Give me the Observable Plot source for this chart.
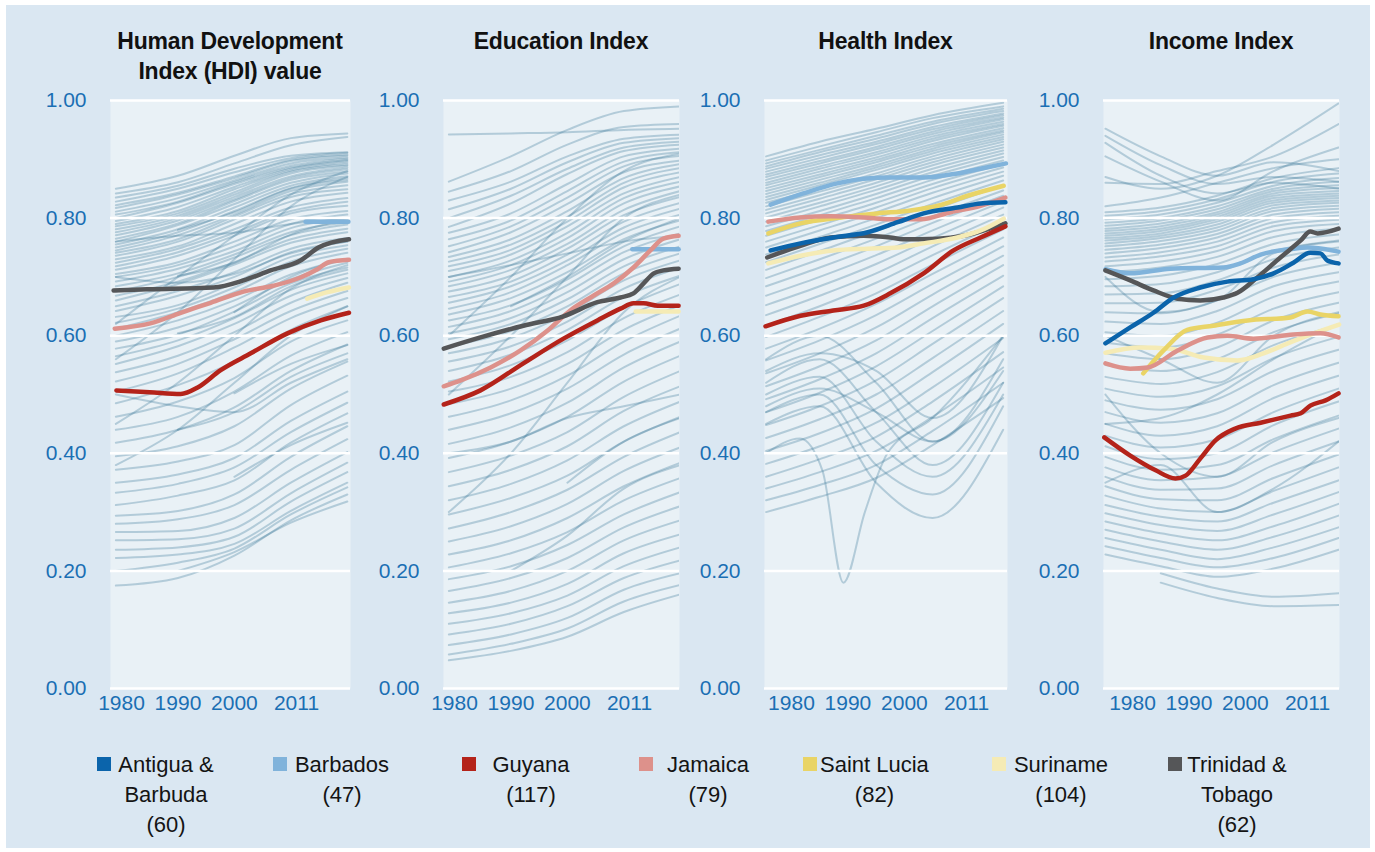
<!DOCTYPE html>
<html>
<head>
<meta charset="utf-8">
<script src="https://cdn.jsdelivr.net/npm/d3@7"></script>
<script src="https://cdn.jsdelivr.net/npm/@observablehq/plot@0.6"></script>
<style>
  html, body { margin: 0; padding: 0; background: #ffffff; }
  body { width: 1375px; height: 852px; position: relative; overflow: hidden;
         font-family: "Liberation Sans", Arial, Helvetica, sans-serif; }
  #frame { position: absolute; left: 6px; top: 5px; width: 1364px; height: 843px; background: #dae7f2; }
  .title { position: absolute; top: 26px; text-align: center; font-weight: bold; font-size: 23px;
           line-height: 30px; color: #111; letter-spacing: -0.2px; white-space: pre-line; }
  .chart { position: absolute; top: 90px; }
  .lg { position: absolute; top: 750px; display: flex; align-items: flex-start; }
  .lg .sw { width: 14px; height: 14px; margin-top: 7px; margin-right: 3px; flex: none; }
  .lg .tx { min-width: 104px; text-align: center; font-size: 22px; line-height: 30px; color: #141414; white-space: nowrap; }
</style>
</head>
<body>
<div id="frame"></div>
<div id="root"></div>
<script>
// ---------------- DATA ----------------
const panelTitles = ["Human Development\nIndex (HDI) value", "Education Index", "Health Index", "Income Index"];
const countries = ["Antigua & Barbuda", "Barbados", "Guyana", "Jamaica", "Saint Lucia", "Suriname", "Trinidad & Tobago"];
const ranks = [60, 47, 117, 79, 82, 104, 62];
const colors = ["#0b64ab", "#80b3db", "#b4231a", "#dd918b", "#e9d466", "#f5ebb5", "#555658"];
const xTickYears = [1980, 1990, 2000, 2011];
const yTickValues = [0, 0.2, 0.4, 0.6, 0.8, 1.0];

// HDI highlighted series: [year, value]
const hdiBarbados = [[2012.6, 0.794], [2020.2, 0.794]];
const hdiGuyana = [[1979.1, 0.507], [1985, 0.504], [1990.5, 0.501], [1993.5, 0.512], [1997.5, 0.541], [2002.9, 0.570], [2009.4, 0.604], [2015.3, 0.626], [2020.3, 0.639]];
const hdiJamaica = [[1978.8, 0.612], [1985.1, 0.621], [1990.5, 0.639], [1995.8, 0.656], [2001.6, 0.675], [2006.9, 0.685], [2011.7, 0.699], [2014.7, 0.713], [2016.7, 0.725], [2020.3, 0.729]];
const hdiSuriname = [[2012.9, 0.663], [2016.5, 0.674], [2020.3, 0.682]];
const hdiTrinidad = [[1978.6, 0.677], [1985.1, 0.679], [1996.3, 0.682], [2001.6, 0.694], [2006.4, 0.711], [2011.7, 0.728], [2014.9, 0.750], [2020.3, 0.764]];

// Education highlighted series
const eduBarbados = [[2011.5, 0.747], [2019.7, 0.747]];
const eduGuyana = [[1978.1, 0.483], [1984.6, 0.507], [1992.2, 0.553], [1999.3, 0.595], [2005.3, 0.626], [2009.4, 0.646], [2011.7, 0.655], [2013.5, 0.655], [2016.0, 0.651], [2019.7, 0.651]];
const eduJamaica = [[1978.1, 0.514], [1981.1, 0.524], [1986.4, 0.546], [1991.7, 0.575], [1996.5, 0.609], [2000.5, 0.643], [2004.6, 0.668], [2008.2, 0.689], [2011.7, 0.716], [2014.7, 0.745], [2017.0, 0.765], [2019.7, 0.770]];
const eduSuriname = [[2012.1, 0.641], [2019.7, 0.641]];
const eduTrinidad = [[1978.1, 0.578], [1984.6, 0.597], [1992.2, 0.617], [1999.3, 0.633], [2005.3, 0.657], [2009.4, 0.665], [2011.7, 0.672], [2013.5, 0.689], [2015.3, 0.706], [2017.0, 0.711], [2019.7, 0.714]];

// Health highlighted series
const healthAntigua = [[1976.3, 0.745], [1981.6, 0.757], [1987.4, 0.767], [1993.5, 0.776], [1998.8, 0.793], [2003.4, 0.808], [2009.4, 0.818], [2013.5, 0.825], [2017.9, 0.827]];
const healthBarbados = [[1976.3, 0.823], [1982.1, 0.842], [1988.1, 0.859], [1992.8, 0.867], [1997.5, 0.869], [2003.4, 0.869], [2009.4, 0.876], [2013.5, 0.884], [2018.0, 0.893]];
const healthGuyana = [[1975.4, 0.616], [1981.6, 0.634], [1987.4, 0.643], [1992.8, 0.651], [1997.5, 0.672], [2003.4, 0.706], [2008.7, 0.745], [2013.5, 0.767], [2017.9, 0.786]];
const healthJamaica = [[1975.9, 0.794], [1981.6, 0.801], [1986.9, 0.803], [1992.8, 0.801], [1997.5, 0.798], [2002.9, 0.798], [2008.2, 0.810], [2013.5, 0.821], [2017.9, 0.835]];
const healthSaintLucia = [[1975.9, 0.774], [1981.6, 0.791], [1988.7, 0.801], [1995.2, 0.808], [2001.1, 0.813], [2005.9, 0.821], [2011.2, 0.838], [2017.6, 0.855]];
const healthSuriname = [[1975.9, 0.723], [1981.6, 0.736], [1987.4, 0.745], [1993.5, 0.748], [1998.8, 0.750], [2003.4, 0.757], [2009.4, 0.767], [2013.5, 0.779], [2017.6, 0.799]];
const healthTrinidad = [[1975.7, 0.733], [1981.6, 0.753], [1986.9, 0.767], [1992.8, 0.770], [1997.5, 0.767], [1999.8, 0.764], [2005.9, 0.765], [2010.5, 0.770], [2017.9, 0.791]];

// Income highlighted series
const incomeAntigua = [[1975.2, 0.587], [1979.6, 0.614], [1983.7, 0.639], [1987.3, 0.665], [1992.0, 0.682], [1996.8, 0.692], [2001.4, 0.696], [2005.0, 0.706], [2008.5, 0.724], [2011.5, 0.741], [2013.3, 0.740], [2014.5, 0.728], [2016.5, 0.723]];
const incomeBarbados = [[1975.2, 0.713], [1979.6, 0.706], [1986.7, 0.714], [1996.1, 0.716], [1999.1, 0.723], [2002.7, 0.738], [2008.5, 0.748], [2011.0, 0.750], [2016.5, 0.743]];
const incomeGuyana = [[1975.0, 0.427], [1979.6, 0.396], [1984.1, 0.371], [1987.6, 0.357], [1989.4, 0.362], [1992.0, 0.391], [1994.7, 0.422], [1998.2, 0.442], [2002.7, 0.452], [2008.0, 0.464], [2009.8, 0.468], [2011.5, 0.481], [2014.2, 0.490], [2016.5, 0.502]];
const incomeJamaica = [[1975.2, 0.553], [1979.6, 0.544], [1982.7, 0.546], [1988.0, 0.575], [1993.3, 0.597], [1996.8, 0.600], [2001.4, 0.595], [2008.5, 0.602], [2013.3, 0.604], [2016.5, 0.597]];
const incomeSaintLucia = [[1981.9, 0.536], [1985.5, 0.575], [1989.7, 0.610], [1994.3, 0.617], [2000.4, 0.626], [2008.0, 0.631], [2011.0, 0.641], [2013.3, 0.636], [2016.5, 0.633]];
const incomeSuriname = [[1975.2, 0.571], [1981.4, 0.580], [1986.7, 0.578], [1992.6, 0.563], [1998.6, 0.558], [2003.2, 0.570], [2007.5, 0.587], [2012.1, 0.604], [2016.6, 0.619]];
const incomeTrinidad = [[1975.2, 0.711], [1979.6, 0.694], [1983.7, 0.677], [1988.0, 0.663], [1992.0, 0.660], [1996.1, 0.665], [1998.6, 0.673], [2002.1, 0.699], [2006.2, 0.733], [2009.8, 0.762], [2011.5, 0.777], [2012.8, 0.774], [2016.5, 0.782]];

// Background (all other countries), values at the listed years
const hdiBgYears = [1979, 1990, 2000, 2010, 2020];
const hdiBackground = [
  [0.850,0.872,0.906,0.936,0.944],[0.842,0.861,0.893,0.924,0.938],[0.835,0.855,0.884,0.906,0.912],[0.828,0.850,0.878,0.902,0.911],
  [0.822,0.843,0.871,0.899,0.908],[0.817,0.840,0.868,0.897,0.906],[0.811,0.834,0.864,0.893,0.903],[0.806,0.828,0.861,0.889,0.901],
  [0.800,0.826,0.858,0.886,0.899],[0.795,0.819,0.853,0.884,0.897],[0.790,0.812,0.849,0.881,0.894],[0.786,0.808,0.844,0.879,0.891],
  [0.781,0.804,0.840,0.876,0.889],[0.776,0.800,0.836,0.871,0.886],[0.771,0.796,0.832,0.868,0.883],[0.765,0.791,0.829,0.865,0.879],
  [0.760,0.788,0.824,0.860,0.876],[0.755,0.781,0.818,0.855,0.871],[0.750,0.776,0.812,0.851,0.868],[0.745,0.771,0.806,0.846,0.862],
  [0.741,0.764,0.803,0.841,0.856],[0.736,0.760,0.798,0.836,0.849],[0.730,0.752,0.790,0.828,0.843],[0.724,0.748,0.781,0.818,0.834],
  [0.718,0.742,0.775,0.812,0.828],[0.712,0.736,0.770,0.808,0.821],[0.705,0.725,0.760,0.798,0.812],[0.700,0.720,0.752,0.790,0.806],
  [0.692,0.714,0.744,0.783,0.800],[0.684,0.706,0.738,0.776,0.793],[0.675,0.700,0.733,0.771,0.789],[0.668,0.692,0.725,0.764,0.782],
  [0.660,0.688,0.721,0.758,0.776],[0.650,0.676,0.708,0.748,0.766],[0.642,0.668,0.700,0.742,0.760],[0.632,0.652,0.690,0.734,0.754],
  [0.622,0.646,0.682,0.726,0.748],[0.612,0.640,0.674,0.718,0.741],[0.600,0.626,0.660,0.704,0.731],[0.590,0.614,0.650,0.696,0.724],
  [0.578,0.602,0.641,0.689,0.716],[0.565,0.592,0.630,0.678,0.706],[0.552,0.582,0.620,0.668,0.698],[0.538,0.566,0.606,0.656,0.690],
  [0.522,0.552,0.594,0.642,0.676],[0.505,0.536,0.580,0.630,0.664],[0.485,0.516,0.556,0.610,0.650],[0.462,0.488,0.528,0.590,0.626],
  [0.440,0.462,0.505,0.566,0.606],[0.418,0.440,0.478,0.540,0.585],[0.395,0.412,0.446,0.510,0.556],[0.372,0.386,0.414,0.482,0.532],
  [0.350,0.364,0.392,0.455,0.505],[0.333,0.348,0.376,0.436,0.486],[0.312,0.328,0.354,0.418,0.468],[0.294,0.302,0.330,0.394,0.446],
  [0.280,0.288,0.312,0.372,0.424],[0.266,0.268,0.290,0.350,0.402],[0.252,0.254,0.272,0.332,0.384],[0.236,0.240,0.258,0.318,0.368],
  [0.222,0.228,0.246,0.302,0.350],[0.200,0.214,0.238,0.296,0.342],[0.175,0.188,0.226,0.286,0.330],
  [null,0.604,0.632,0.684,0.712],[null,0.702,0.724,0.772,0.798],[null,0.780,0.810,0.850,0.865],[null,null,0.502,0.552,0.584],
  [null,0.200,0.232,0.282,0.318],[null,null,0.360,0.414,0.452],[null,0.440,0.470,0.530,0.570],[null,null,0.640,0.700,0.730],
  [0.560,0.640,0.730,0.820,0.870],[0.620,0.700,0.770,0.840,0.880],[0.760,0.770,0.775,0.790,0.800],[0.700,0.690,0.705,0.740,0.760],
  [0.450,0.520,0.600,0.680,0.720],[0.500,0.480,0.470,0.520,0.560],[0.380,0.440,0.520,0.600,0.650]
];

const eduBgYears = [1979, 1990, 2000, 2010, 2020];
const eduBackground = [
  [0.942,0.944,0.946,0.950,0.952],[0.862,0.905,0.950,0.982,0.990],[0.845,0.880,0.925,0.955,0.960],[0.830,0.862,0.905,0.935,0.942],
  [0.815,0.850,0.895,0.928,0.936],[0.800,0.838,0.884,0.920,0.930],[0.785,0.825,0.875,0.914,0.925],[0.775,0.808,0.858,0.905,0.918],
  [0.764,0.796,0.846,0.896,0.912],[0.752,0.786,0.835,0.888,0.906],[0.742,0.776,0.824,0.878,0.898],[0.734,0.764,0.812,0.868,0.892],
  [0.726,0.755,0.802,0.860,0.885],[0.718,0.746,0.794,0.852,0.878],[0.710,0.738,0.786,0.842,0.870],[0.700,0.728,0.775,0.834,0.862],
  [0.692,0.720,0.766,0.825,0.854],[0.684,0.712,0.756,0.814,0.846],[0.675,0.702,0.748,0.805,0.836],[0.666,0.692,0.738,0.794,0.826],
  [0.656,0.684,0.728,0.784,0.816],[0.646,0.674,0.720,0.775,0.806],[0.636,0.664,0.708,0.764,0.796],[0.626,0.652,0.696,0.752,0.786],
  [0.615,0.642,0.686,0.742,0.774],[0.604,0.630,0.674,0.730,0.764],[0.594,0.620,0.662,0.718,0.752],[0.582,0.608,0.650,0.706,0.740],
  [0.570,0.596,0.638,0.694,0.728],[0.556,0.582,0.624,0.680,0.716],[0.540,0.568,0.610,0.666,0.702],[0.522,0.550,0.592,0.648,0.688],
  [0.505,0.530,0.572,0.630,0.670],[0.484,0.510,0.552,0.610,0.652],[0.462,0.490,0.532,0.590,0.634],[0.440,0.468,0.510,0.568,0.612],
  [0.416,0.444,0.486,0.546,0.590],[0.392,0.420,0.462,0.522,0.566],[0.368,0.396,0.436,0.496,0.540],[0.344,0.372,0.412,0.472,0.514],
  [0.320,0.348,0.388,0.446,0.488],[0.296,0.324,0.362,0.420,0.462],[0.272,0.300,0.338,0.394,0.436],[0.250,0.276,0.314,0.370,0.410],
  [0.228,0.252,0.290,0.344,0.384],[0.206,0.230,0.266,0.320,0.358],[0.186,0.208,0.244,0.296,0.334],[0.166,0.188,0.222,0.274,0.310],
  [0.146,0.166,0.200,0.252,0.286],[0.128,0.146,0.178,0.230,0.262],[0.110,0.128,0.158,0.208,0.240],[0.092,0.110,0.140,0.188,0.218],
  [0.074,0.092,0.120,0.168,0.196],[0.058,0.076,0.102,0.148,0.176],[0.048,0.064,0.088,0.130,0.160],
  [0.600,0.700,0.800,0.880,0.910],[0.500,0.600,0.700,0.800,0.840],[0.300,0.400,0.520,0.640,0.700],[0.700,0.720,0.740,0.760,0.770],
  [0.400,0.420,0.460,0.480,0.500],[null,0.650,0.700,0.760,0.800],[null,null,0.350,0.420,0.460],[null,0.200,0.260,0.340,0.380]
];

const healthBgYears = [1975.5, 1985, 1995, 2005, 2017.5];
const healthBackground = [
  [0.905,0.930,0.952,0.975,0.996],[0.898,0.922,0.946,0.970,0.990],[0.893,0.916,0.940,0.964,0.986],[0.888,0.912,0.935,0.960,0.982],
  [0.884,0.907,0.930,0.955,0.978],[0.879,0.902,0.926,0.951,0.975],[0.874,0.897,0.921,0.947,0.971],[0.870,0.893,0.917,0.943,0.968],
  [0.865,0.888,0.912,0.939,0.964],[0.860,0.884,0.908,0.935,0.960],[0.856,0.879,0.903,0.931,0.957],[0.851,0.874,0.899,0.926,0.953],
  [0.846,0.870,0.895,0.922,0.949],[0.841,0.865,0.890,0.918,0.946],[0.836,0.860,0.886,0.914,0.942],[0.831,0.856,0.882,0.910,0.938],
  [0.826,0.850,0.876,0.905,0.934],[0.820,0.845,0.871,0.900,0.930],[0.814,0.839,0.866,0.895,0.925],[0.808,0.833,0.860,0.890,0.920],
  [0.801,0.826,0.854,0.884,0.915],[0.794,0.820,0.848,0.878,0.910],[0.786,0.812,0.841,0.872,0.904],[0.778,0.805,0.834,0.865,0.898],
  [0.770,0.797,0.826,0.858,0.892],[0.760,0.788,0.818,0.851,0.886],[0.750,0.779,0.810,0.843,0.879],[0.738,0.768,0.800,0.834,0.872],
  [0.725,0.756,0.789,0.824,0.864],[0.712,0.744,0.778,0.814,0.856],[0.698,0.730,0.765,0.803,0.847],[0.684,0.716,0.752,0.792,0.838],
  [0.668,0.700,0.737,0.779,0.828],[0.652,0.684,0.722,0.766,0.818],[0.635,0.668,0.706,0.752,0.806],[0.617,0.650,0.690,0.737,0.794],
  [0.598,0.632,0.672,0.721,0.781],[0.578,0.612,0.654,0.705,0.767],[0.558,0.592,0.635,0.688,0.752],[0.536,0.570,0.614,0.670,0.736],
  [0.514,0.548,0.592,0.650,0.720],[0.492,0.526,0.570,0.630,0.702],[0.470,0.503,0.548,0.608,0.684],[0.448,0.480,0.524,0.586,0.664],
  [0.426,0.458,0.500,0.562,0.642],[0.404,0.434,0.476,0.538,0.620],[0.382,0.412,0.452,0.512,0.596],[0.360,0.390,0.428,0.488,0.572],
  [0.340,0.368,0.404,0.462,0.546],[0.320,0.346,0.380,0.438,0.520],[0.300,0.326,0.358,0.414,0.494],
  [0.560,0.600,0.520,0.420,0.560],[0.520,0.560,0.470,0.380,0.520],[0.500,0.530,0.420,0.360,0.500],[0.470,0.500,0.380,0.330,0.480],
  [0.450,0.480,0.350,0.290,0.440],[0.540,0.570,0.540,0.460,0.600],[0.480,0.510,0.470,0.420,0.540]
];
// one country with a sharp collapse and recovery in the Health Index
const healthCollapse = [[1975.5, 0.400], [1981.5, 0.425], [1985.5, 0.370], [1989.2, 0.180], [1993, 0.300], [1997, 0.400], [2005, 0.460], [2017.5, 0.600]];

const incomeBgYears = [1975.2, 1985, 1995, 2005, 2016.5];
const incomeBackground = [
  [0.952,0.905,0.872,0.895,0.880],[0.940,0.890,0.858,0.870,0.862],[0.928,0.872,0.842,0.860,0.850],[0.905,0.862,0.830,0.880,0.920],
  [0.870,0.850,0.872,0.925,0.995],[0.860,0.858,0.880,0.905,0.960],[0.820,0.835,0.860,0.885,0.900],[0.810,0.818,0.838,0.868,0.885],
  [0.804,0.812,0.832,0.862,0.876],[0.798,0.806,0.826,0.855,0.868],[0.792,0.800,0.820,0.850,0.862],[0.787,0.796,0.815,0.846,0.856],
  [0.782,0.791,0.810,0.842,0.851],[0.778,0.786,0.806,0.838,0.846],[0.774,0.782,0.802,0.834,0.842],[0.770,0.778,0.798,0.830,0.838],
  [0.766,0.774,0.794,0.826,0.834],[0.762,0.770,0.789,0.822,0.830],[0.757,0.766,0.784,0.817,0.826],[0.752,0.761,0.779,0.812,0.821],
  [0.746,0.755,0.773,0.806,0.816],[0.740,0.749,0.767,0.800,0.810],[0.733,0.742,0.760,0.793,0.804],[0.726,0.735,0.752,0.786,0.797],
  [0.718,0.726,0.744,0.778,0.790],[0.708,0.716,0.734,0.768,0.782],[0.696,0.702,0.722,0.756,0.772],[0.684,0.688,0.708,0.744,0.762],
  [0.670,0.672,0.694,0.730,0.750],[0.655,0.656,0.678,0.716,0.738],[0.640,0.638,0.660,0.700,0.724],[0.624,0.620,0.642,0.684,0.708],
  [0.606,0.600,0.622,0.666,0.692],[0.588,0.580,0.602,0.646,0.674],[0.570,0.560,0.580,0.626,0.656],[0.550,0.540,0.560,0.606,0.638],
  [0.530,0.518,0.538,0.584,0.618],[0.510,0.496,0.514,0.562,0.598],[0.490,0.474,0.492,0.540,0.576],[0.470,0.452,0.468,0.516,0.554],
  [0.450,0.430,0.446,0.494,0.532],[0.430,0.410,0.424,0.470,0.510],[0.412,0.390,0.400,0.448,0.488],[0.394,0.372,0.380,0.424,0.464],
  [0.376,0.354,0.360,0.402,0.442],[0.360,0.338,0.340,0.380,0.420],[0.344,0.322,0.320,0.358,0.398],[0.328,0.306,0.300,0.336,0.376],
  [0.312,0.292,0.284,0.316,0.354],[0.298,0.278,0.268,0.296,0.334],[0.284,0.264,0.252,0.276,0.314],[0.270,0.250,0.236,0.258,0.294],
  [0.256,0.236,0.220,0.240,0.274],[0.242,0.222,0.206,0.222,0.256],[0.228,0.208,0.190,0.204,0.236],
  [null,0.196,0.170,0.156,0.162],[null,0.180,0.154,0.140,0.142],
  [0.600,0.560,0.520,0.600,0.640],[0.500,0.400,0.360,0.420,0.460],[0.700,0.640,0.660,0.740,0.760],[0.350,0.380,0.300,0.340,0.420],
  [0.450,0.460,0.500,0.560,0.620]
];

// ---------------- LAYOUT ----------------
const PX_PER_YEAR = 5.645;
const panelLayout = [
  {left: 110, width: 240, xStart: 1978.05},
  {left: 443, width: 236, xStart: 1978.05},
  {left: 764, width: 243, xStart: 1975.22},
  {left: 1103, width: 236, xStart: 1974.86}
];
const legendLefts = [97, 273, 462, 639, 803, 992, 1168];
const ML = 80, MR = 12, MT = 10, MB = 42, H = 640;

const panelSeries = [
  {bgYears: hdiBgYears, bg: hdiBackground, extra: [],
   series: {"Barbados": hdiBarbados, "Suriname": hdiSuriname, "Jamaica": hdiJamaica, "Trinidad & Tobago": hdiTrinidad, "Guyana": hdiGuyana}},
  {bgYears: eduBgYears, bg: eduBackground, extra: [],
   series: {"Barbados": eduBarbados, "Suriname": eduSuriname, "Jamaica": eduJamaica, "Trinidad & Tobago": eduTrinidad, "Guyana": eduGuyana}},
  {bgYears: healthBgYears, bg: healthBackground, extra: [healthCollapse],
   series: {"Barbados": healthBarbados, "Saint Lucia": healthSaintLucia, "Jamaica": healthJamaica, "Trinidad & Tobago": healthTrinidad, "Suriname": healthSuriname, "Antigua & Barbuda": healthAntigua, "Guyana": healthGuyana}},
  {bgYears: incomeBgYears, bg: incomeBackground, extra: [],
   series: {"Suriname": incomeSuriname, "Saint Lucia": incomeSaintLucia, "Jamaica": incomeJamaica, "Barbados": incomeBarbados, "Trinidad & Tobago": incomeTrinidad, "Antigua & Barbuda": incomeAntigua, "Guyana": incomeGuyana}}
];

const colorOf = name => colors[countries.indexOf(name)];
const root = document.getElementById("root");

panelSeries.forEach((p, i) => {
  const lay = panelLayout[i];
  const t = document.createElement("div");
  t.className = "title";
  t.style.left = (lay.left - 30) + "px";
  t.style.width = (lay.width + 60) + "px";
  t.textContent = panelTitles[i];
  root.appendChild(t);

  const bgRows = [];
  p.bg.forEach((vals, k) => vals.forEach((v, j) => bgRows.push({id: k, year: p.bgYears[j], value: v})));
  p.extra.forEach((pts, k) => pts.forEach(([yr, v]) => bgRows.push({id: "x" + k, year: yr, value: v})));

  const hlMarks = Object.entries(p.series).map(([name, pts]) =>
    Plot.line(pts, {x: d => d[0], y: d => d[1], stroke: colorOf(name), strokeWidth: 4.5,
      curve: "monotone-x", strokeLinecap: "round", strokeLinejoin: "round"}));

  const chart = Plot.plot({
    width: ML + lay.width + MR, height: H,
    marginLeft: ML, marginRight: MR, marginTop: MT, marginBottom: MB,
    style: {background: "transparent", fontFamily: "'Liberation Sans', Arial, sans-serif", fontSize: "21px", color: "#1a6fb4", overflow: "visible"},
    x: {domain: [lay.xStart, lay.xStart + lay.width / PX_PER_YEAR], ticks: xTickYears, tickFormat: d => String(d), tickSize: 0, tickPadding: 7, label: null},
    y: {domain: [0, 1], ticks: yTickValues, tickFormat: d => d.toFixed(2), tickSize: 0, tickPadding: 24, label: null},
    marks: [
      Plot.frame({fill: "#e9f1f6", stroke: "none"}),
      Plot.line(bgRows, {x: "year", y: "value", z: "id", stroke: "#357595", strokeOpacity: 0.3, strokeWidth: 2, curve: "monotone-x", clip: true}),
      Plot.gridY(yTickValues, {stroke: "white", strokeOpacity: 1, strokeWidth: 2.5}),
      ...hlMarks
    ]
  });
  chart.classList.add("chart");
  chart.style.left = (lay.left - ML) + "px";
  root.appendChild(chart);
});

countries.forEach((name, i) => {
  const item = document.createElement("div");
  item.className = "lg";
  item.style.left = legendLefts[i] + "px";
  const sw = document.createElement("div");
  sw.className = "sw";
  sw.style.background = colors[i];
  const tx = document.createElement("div");
  tx.className = "tx";
  const parts = name.split(" & ");
  const lines = parts.length > 1 ? [parts[0] + " &", parts[1]] : [name];
  lines.push("(" + ranks[i] + ")");
  tx.innerHTML = lines.map(s => s.replace(/&/g, "&amp;")).join("<br>");
  item.appendChild(sw);
  item.appendChild(tx);
  root.appendChild(item);
});
</script>
</body>
</html>
